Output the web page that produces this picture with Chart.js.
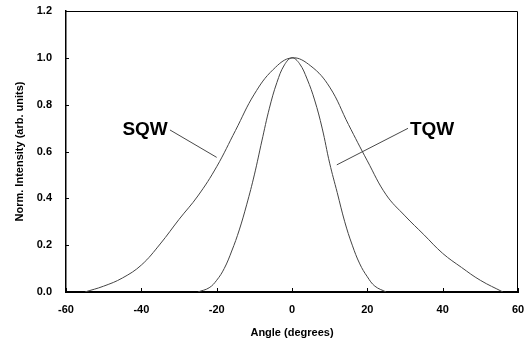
<!DOCTYPE html>
<html>
<head>
<meta charset="utf-8">
<script src="https://cdn.jsdelivr.net/npm/chart.js@4/dist/chart.umd.min.js"></script>
<style>
  html, body { margin: 0; padding: 0; background: #fff; }
  #wrap { width: 524px; height: 347px; position: relative; }
</style>
</head>
<body>
<div id="wrap"><canvas id="profile"></canvas></div>
<script>
// angular intensity profiles
const sqwAngle = [-55, -50, -45, -40, -35, -30, -25, -20, -15, -10, -5, 0, 5, 10, 15, 20, 25, 30, 35, 40, 45, 50, 56];
const sqwIntensity = [0, 0.025, 0.06, 0.115, 0.205, 0.31, 0.41, 0.535, 0.69, 0.845, 0.95, 1.0, 0.965, 0.875, 0.715, 0.56, 0.415, 0.325, 0.245, 0.165, 0.105, 0.05, 0];

const tqwAngle = [-25, -22, -20, -18, -16, -14, -12, -10, -8, -6, -4, -2, 0, 2, 4, 6, 8, 10, 12, 14, 16, 18, 20, 22, 25];
const tqwIntensity = [0, 0.018, 0.05, 0.1, 0.175, 0.265, 0.375, 0.5, 0.645, 0.785, 0.895, 0.97, 1.0, 0.975, 0.91, 0.82, 0.7, 0.55, 0.425, 0.3, 0.2, 0.12, 0.065, 0.025, 0];

const xTicks = [-60, -40, -20, 0, 20, 40, 60];
const yTicks = [0, 0.2, 0.4, 0.6, 0.8, 1.0, 1.2];

const toPoints = (xs, ys) => xs.map((x, i) => ({ x: x, y: ys[i] }));

// curve labels with leader lines (data coordinates)
const curveLabels = [
  { text: 'SQW', x: -39, y: 0.692, from: [-32.4, 0.692], to: [-20, 0.575] },
  { text: 'TQW', x: 37.2, y: 0.692, from: [30.8, 0.699], to: [11.9, 0.543] }
];

const frameAndLabels = {
  id: 'frameAndLabels',
  afterDatasetsDraw(chart) {
    const { ctx, chartArea: a, scales: { x, y } } = chart;
    ctx.save();
    // thin top/right frame
    ctx.strokeStyle = '#000';
    ctx.lineWidth = 1;
    ctx.beginPath();
    ctx.moveTo(a.left, a.top + 0.5);
    ctx.lineTo(a.right - 0.5, a.top + 0.5);
    ctx.lineTo(a.right - 0.5, a.bottom);
    ctx.stroke();
    // inward tick marks
    xTicks.forEach(v => {
      const px = Math.round(x.getPixelForValue(v)) + 0.5;
      ctx.beginPath();
      ctx.moveTo(px, a.bottom);
      ctx.lineTo(px, a.bottom - 4);
      ctx.stroke();
    });
    yTicks.forEach(v => {
      const py = Math.round(y.getPixelForValue(v)) + 0.5;
      ctx.beginPath();
      ctx.moveTo(a.left, py);
      ctx.lineTo(a.left + 3, py);
      ctx.stroke();
    });
    // curve labels
    ctx.font = 'bold 19px "Liberation Sans", Arial, sans-serif';
    ctx.fillStyle = '#000';
    ctx.textAlign = 'center';
    ctx.textBaseline = 'middle';
    curveLabels.forEach(l => {
      ctx.fillText(l.text, x.getPixelForValue(l.x), y.getPixelForValue(l.y));
      ctx.strokeStyle = '#333';
      ctx.lineWidth = 0.9;
      ctx.beginPath();
      ctx.moveTo(x.getPixelForValue(l.from[0]), y.getPixelForValue(l.from[1]));
      ctx.lineTo(x.getPixelForValue(l.to[0]), y.getPixelForValue(l.to[1]));
      ctx.stroke();
    });
    ctx.restore();
  }
};

const tickFont = { family: '"Liberation Sans", Arial, sans-serif', size: 11, weight: 'bold' };

const chart = new Chart(document.getElementById('profile').getContext('2d'), {
  type: 'scatter',
  data: {
    datasets: [
      {
        label: 'SQW',
        data: toPoints(sqwAngle, sqwIntensity),
        showLine: true,
        borderColor: '#444',
        borderWidth: 1,
        pointRadius: 0,
        tension: 0.4
      },
      {
        label: 'TQW',
        data: toPoints(tqwAngle, tqwIntensity),
        showLine: true,
        borderColor: '#444',
        borderWidth: 1,
        pointRadius: 0,
        tension: 0.4
      }
    ]
  },
  options: {
    responsive: true,
    maintainAspectRatio: false,
    animation: false,
    layout: { padding: { top: 11, right: 6, left: 0, bottom: 0 } },
    plugins: { legend: { display: false }, tooltip: { enabled: false } },
    scales: {
      x: {
        type: 'linear',
        min: -60,
        max: 60,
        afterBuildTicks: s => { s.ticks = xTicks.map(v => ({ value: v })); },
        afterFit: s => { s.height = 55; s.paddingLeft = 0; s.paddingRight = 0; },
        grid: { display: false },
        border: { display: true, color: '#000', width: 2 },
        ticks: { color: '#000', font: tickFont, padding: 3, maxRotation: 0, callback: v => String(v) },
        title: {
          display: true,
          text: 'Angle (degrees)',
          color: '#000',
          font: tickFont,
          padding: { top: 0, bottom: 7 }
        }
      },
      y: {
        min: 0,
        max: 1.2,
        afterBuildTicks: s => { s.ticks = yTicks.map(v => ({ value: v })); },
        afterFit: s => { s.width = 66; s.paddingTop = 0; s.paddingBottom = 0; },
        grid: { display: false },
        border: { display: true, color: '#000', width: 1.5 },
        ticks: { color: '#000', font: tickFont, padding: 6, callback: v => v.toFixed(1) },
        title: {
          display: true,
          text: 'Norm. Intensity (arb. units)',
          color: '#000',
          font: tickFont,
          padding: { top: 13, bottom: 0 }
        }
      }
    }
  },
  plugins: [frameAndLabels]
});
</script>
</body>
</html>
